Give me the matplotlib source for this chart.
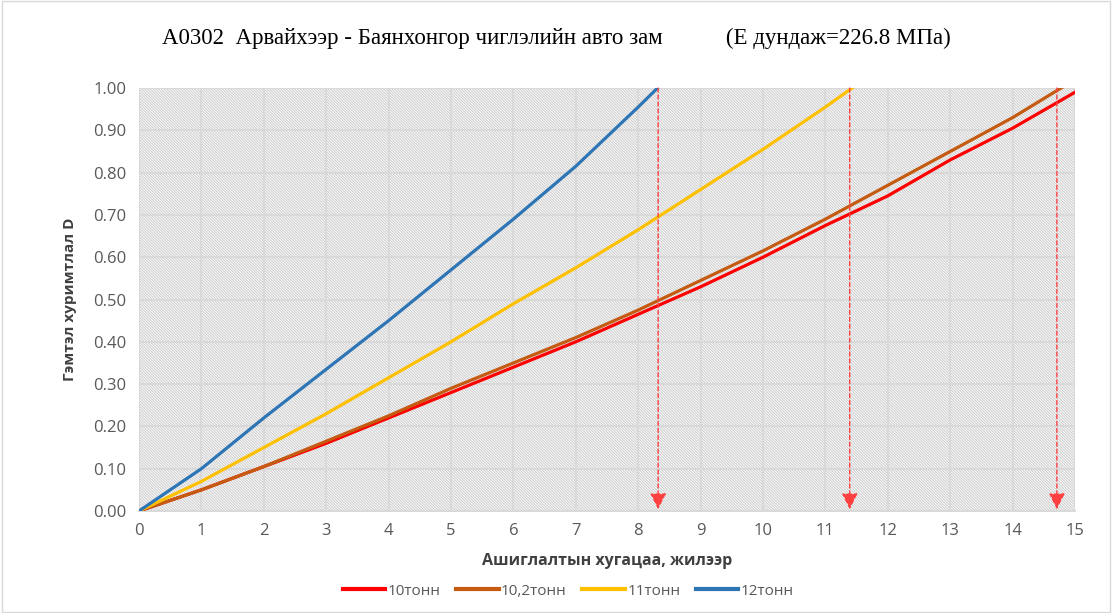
import matplotlib.pyplot as plt
from matplotlib.patches import Rectangle

plt.rcParams['hatch.linewidth'] = 0.8
plt.rcParams['hatch.color'] = '#cfcfcf'

years = [0, 1, 2, 3, 4, 5, 6, 7, 8, 9, 10, 11, 12, 13, 14, 15]
d_10t = [0, 0.05, 0.105, 0.16, 0.22, 0.28, 0.34, 0.40, 0.465, 0.53, 0.60, 0.675, 0.745, 0.83, 0.905, 0.99]
d_102t = [0, 0.05, 0.105, 0.165, 0.225, 0.29, 0.35, 0.41, 0.475, 0.545, 0.615, 0.69, 0.77, 0.85, 0.93, 1.02]
d_11t = [0, 0.07, 0.15, 0.23, 0.315, 0.40, 0.49, 0.575, 0.665, 0.76, 0.855, 0.955, 1.06]
d_12t = [0, 0.10, 0.22, 0.335, 0.45, 0.57, 0.69, 0.815, 0.955, 1.10]
labels = ['10тонн', '10,2тонн', '11тонн', '12тонн']
colors = ['#ff0000', '#c55a11', '#ffc000', '#2e75b6']
end_years = [8.32, 11.39, 14.71]

fig = plt.figure(figsize=(11.12, 6.13), dpi=100)
ax = fig.add_axes([0.125, 0.1664, 0.8417, 0.69])

ax.add_patch(Rectangle((0, 0), 1, 1, transform=ax.transAxes, facecolor='white',
                       hatch='\\' * 12, edgecolor='#cfcfcf', linewidth=0, zorder=0))

series = [d_10t, d_102t, d_11t, d_12t]
for s, lab, c in zip(series, labels, colors):
    ax.plot(years[:len(s)], s, color=c, lw=2.3, label=lab, zorder=3, clip_on=True)

for xe in end_years:
    ax.annotate('', xy=(xe, 0.004), xytext=(xe, 1.0),
                arrowprops=dict(arrowstyle='-|>,head_length=0.7,head_width=0.35', color='#ff4040',
                                lw=1.0, ls=(0, (3, 2)), mutation_scale=14, shrinkA=0, shrinkB=0),
                zorder=4)

ax.set_xlim(0, 15)
ax.set_ylim(0, 1)
ax.set_xticks(range(0, 16))
ax.set_yticks([i / 10 for i in range(11)])
ax.set_yticklabels(['%.2f' % (i / 10) for i in range(11)])
ax.grid(True, color='#d9d9d9', lw=1.5, zorder=1)
ax.set_axisbelow(True)
for sp in ax.spines.values():
    sp.set_visible(False)
ax.spines['bottom'].set_visible(True)
ax.spines['bottom'].set_color('#d9d9d9')
ax.spines['bottom'].set_linewidth(1.5)
ax.tick_params(length=0, labelsize=12, labelcolor='#595959', pad=9)
for t in ax.get_xticklabels() + ax.get_yticklabels():
    t.set_fontfamily('Open Sans')

ax.set_xlabel('Ашиглалтын хугацаа, жилээр', fontsize=11.5, fontweight='bold',
              color='#404040', family='Open Sans', labelpad=10)
ax.set_ylabel('Гэмтэл хуримтлал D', fontsize=11, fontweight='bold',
              color='#404040', family='Open Sans', labelpad=12)

fig.text(0.5, 0.938, 'A0302  Арвайхээр - Баянхонгор чиглэлийн авто зам           (E дундаж=226.8 МПа)',
         ha='center', va='center', fontsize=16.5, family='Liberation Serif', color='black')

leg = ax.legend(loc='upper center', bbox_to_anchor=(0.511, 0.07), bbox_transform=fig.transFigure,
                ncol=4, frameon=False, handlelength=2.8, columnspacing=1.0, handletextpad=0.15,
                prop={'family': 'Open Sans', 'size': 11})
for t in leg.get_texts():
    t.set_color('#595959')
for l in leg.get_lines():
    l.set_linewidth(3)

fig.patches.append(Rectangle((0.002, 0.002), 0.996, 0.996, transform=fig.transFigure,
                             fill=False, edgecolor='#d9d9d9', lw=1))

fig.savefig('out.png', dpi=100)
